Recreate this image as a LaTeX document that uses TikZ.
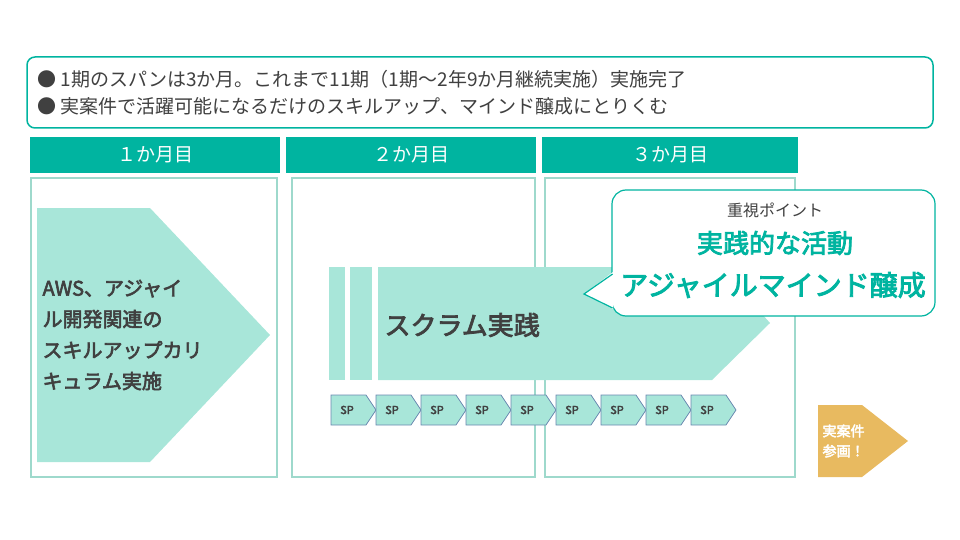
\documentclass[tikz,border=0pt]{standalone}
\usepackage{fontspec}
\setmainfont{Noto Sans CJK JP}
\newfontfamily\jpbold[FakeBold=3]{Noto Sans CJK JP}
\definecolor{teal1}{HTML}{00B4A0}
\definecolor{mint}{HTML}{A8E6D9}
\definecolor{mintline}{HTML}{9ED9CC}
\definecolor{darkgray}{HTML}{404040}
\definecolor{spline}{HTML}{6A88B0}
\definecolor{gold}{HTML}{E8BA60}
\tikzset{
  colbox/.style={draw=mintline,line width=1.5pt},
  spbox/.style={fill=mint,draw=spline,line width=0.8pt},
}
\begin{document}
\begin{tikzpicture}[x=1pt,y=-1pt]
\useasboundingbox (0,0) rectangle (960,540);
% top box
\draw[teal1,line width=1.5pt,rounded corners=8pt,fill=white] (27,57) rectangle (933,128);
\node[anchor=west,text=darkgray,font=\fontsize{19}{19}\selectfont] (line1) at (34,79) {● 1期のスパンは3か月。これまで11期（1期～2年9か月継続実施）実施完了};
\node[anchor=west,text=darkgray,font=\fontsize{19}{19}\selectfont] (line2) at (34,106) {● 実案件で活躍可能になるだけのスキルアップ、マインド醸成にとりくむ};
% headers
\foreach \xa/\xb/\t in {30/280/１か月目,286/536/２か月目,542/798/３か月目}{
  \fill[teal1] (\xa,137) rectangle (\xb,173);
  \node[text=white,font=\fontsize{19}{19}\selectfont] at ({(\xa+\xb)/2},155) {\t};
}
% columns
\draw[colbox] (31,178) rectangle (277,477);
\draw[colbox] (292,178) rectangle (535,477);
\draw[colbox] (545,178) rectangle (795,477);
% chevron 1
\fill[mint] (37,208) -- (150,208) -- (270,335) -- (150,462) -- (37,462) -- cycle;
\node[anchor=west,align=left,text=darkgray,font=\jpbold\fontsize{20}{31}\selectfont] (curr) at (39,335)
  {AWS、アジャイ\\ル開発関連の\\スキルアップカリ\\キュラム実施};
% scrum
\fill[mint] (329,267) rectangle (345,380);
\fill[mint] (350,267) rectangle (372,380);
\fill[mint] (378,267) -- (720,267) -- (770,323) -- (712,380) -- (378,380) -- cycle;
\node[anchor=west,text=darkgray,font=\jpbold\fontsize{26}{26}\selectfont] (scrum) at (381,325) {スクラム実践};
% sprints
\foreach \i in {0,...,8}{
  \draw[spbox] ({331+45*\i},395) -- ({366+45*\i},395) -- ({376+45*\i},410) -- ({366+45*\i},425) -- ({331+45*\i},425) -- cycle;
  \node[text=darkgray,font=\jpbold\fontsize{11}{11}\selectfont] at ({347+45*\i},410) {SP};
}
% callout
\draw[teal1,line width=1.2pt,fill=white,rounded corners=14pt] (612,316) -- (612,190) -- (935,190) -- (935,316) -- cycle;
\fill[white] (613,272) -- (584,294) -- (613,309) -- cycle;
\draw[teal1,line width=1.2pt] (612.6,274) -- (584,294) -- (612.6,308);
\node[text=darkgray,font=\fontsize{16}{16}\selectfont] (point) at (775,210) {重視ポイント};
\node[text=teal1,font=\jpbold\fontsize{26}{26}\selectfont] (act) at (775,243) {実践的な活動};
\node[text=teal1,font=\jpbold\fontsize{28}{28}\selectfont] (mind) at (773,285) {アジャイルマインド醸成};
% gold chevron
\fill[gold] (818,405) -- (862,405) -- (908,441) -- (862,477) -- (818,477) -- cycle;
\node[anchor=west,align=left,text=white,font=\jpbold\fontsize{14}{20}\selectfont] (join) at (819,441) {実案件\\参画！};
\end{tikzpicture}
\end{document}
